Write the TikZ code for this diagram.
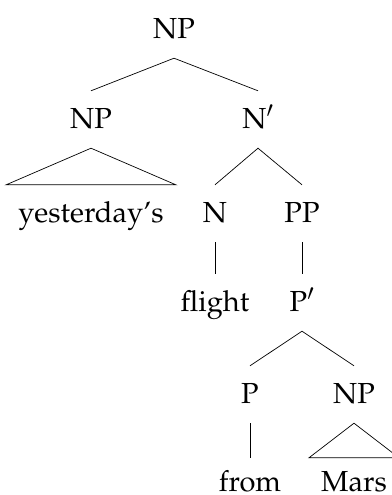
\documentclass[tikz,border=0pt]{standalone}
\usepackage[T1]{fontenc}
\usepackage{mathpazo}
\begin{document}
\begin{tikzpicture}[x=1pt,y=-1pt,
  lbl/.style={anchor=base,inner xsep=12pt,inner ysep=12pt,text height=25pt,text depth=8pt,font=\fontsize{29}{35}\selectfont},
  leaf/.style={lbl,inner ysep=0pt,text height=33pt,text depth=0pt},
  edge/.style={line width=0.7pt,line join=miter}]
\useasboundingbox (0,0) rectangle (391,495);
\node[lbl] (np0) at (174,38) {NP};
\node[lbl] (np1) at (91,128) {NP};
\node[lbl] (nbar) at (258,128) {N$'$};
\node[lbl] (yest) at (91,222) {yesterday's};
\node[lbl] (n) at (215,222) {N};
\node[lbl] (pp) at (302,222) {PP};
\node[lbl] (flight) at (215,311) {flight};
\node[lbl] (pbar) at (302,311) {P$'$};
\node[lbl] (p) at (250,403) {P};
\node[lbl] (np2) at (354,403) {NP};
\node[leaf] (from) at (250,491) {from};
\node[leaf] (mars) at (354,491) {Mars};
\draw[edge] (np1.north) -- (np0.south) -- (nbar.north);
\draw[edge] (np1.south) -- (yest.north west) -- (yest.north east) -- cycle;
\draw[edge] (n.north) -- (nbar.south) -- (pp.north);
\draw[edge] (n.south) -- (flight.north);
\draw[edge] (pp.south) -- (pbar.north);
\draw[edge] (p.north) -- (pbar.south) -- (np2.north);
\draw[edge] (p.south) -- (from.north);
\draw[edge] (np2.south) -- (mars.north west) -- (mars.north east) -- cycle;
\end{tikzpicture}
\end{document}
